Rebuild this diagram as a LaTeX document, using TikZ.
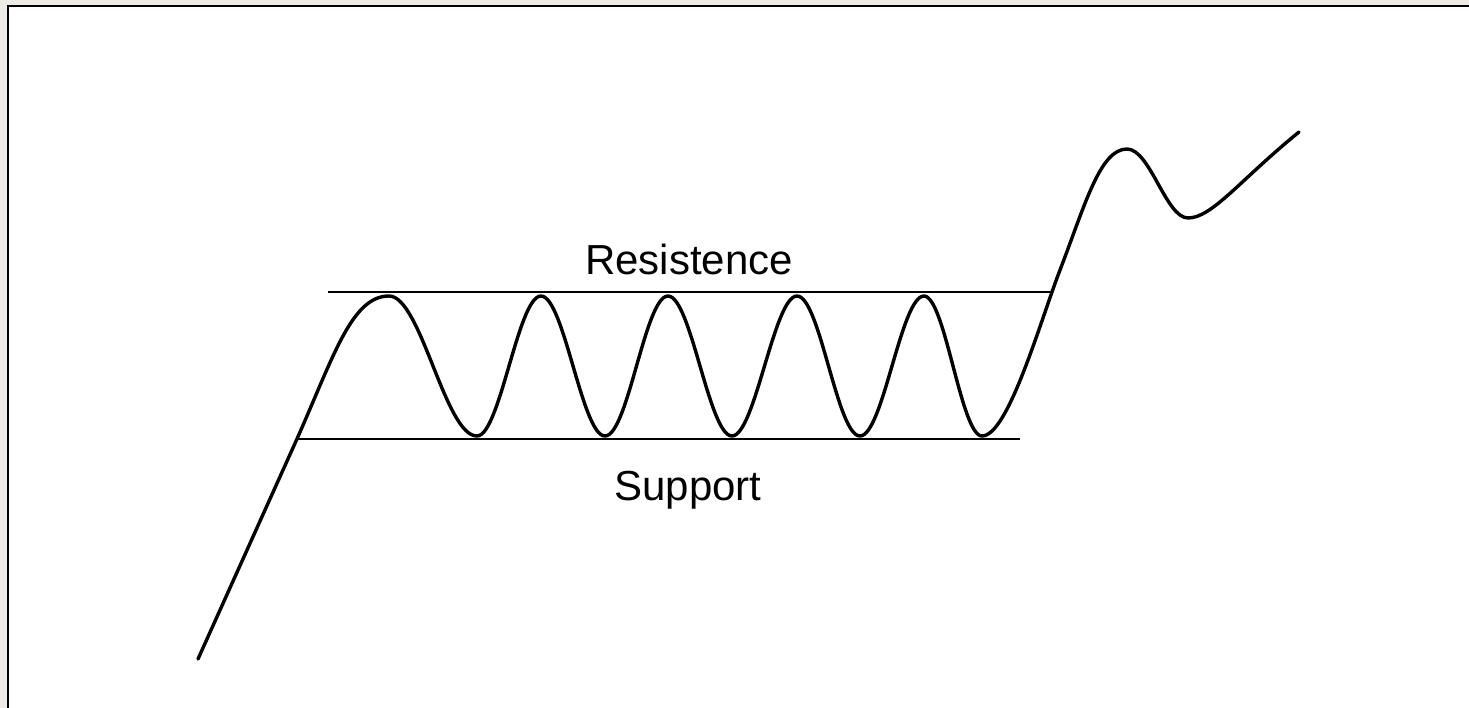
\documentclass[tikz,border=0pt]{standalone}
\usepackage{fontspec}
\setmainfont{Liberation Sans}
\definecolor{bggray}{RGB}{236,235,230}
\begin{document}
\begin{tikzpicture}[x=1pt,y=-1pt,
  price/.style={line width=3.4pt,line cap=round,line join=round},
  level/.style={line width=2pt},
  frameline/.style={line width=2.2pt},
  lbl/.style={font=\fontsize{42}{50}\selectfont,inner sep=0pt,anchor=base}]
\useasboundingbox (0,0) rectangle (1469,708);
\fill[bggray] (-5,-5) rectangle (1475,6);
\fill[bggray] (-5,-5) rectangle (8,715);
\fill[white] (8,6) rectangle (1475,715);
\coordinate (fbl) at (8,715);
\coordinate (ftl) at (8,6);
\coordinate (ftr) at (1475,6);
\draw[frameline] (fbl) -- (ftl) -- (ftr);
% levels
\coordinate (rL) at (328,292);
\coordinate (rR) at (1052,292);
\coordinate (sL) at (298,438.5);
\coordinate (sR) at (1020,438.5);
\draw[level] (rL) -- (rR);
\draw[level] (sL) -- (sR);
% price path
\coordinate (p0) at (198,659);
\coordinate (p1) at (292,450);
\coordinate (k1) at (389,296);
\coordinate (t1) at (477,436);
\coordinate (k2) at (541,296);
\coordinate (t2) at (605,436);
\coordinate (k3) at (668,296);
\coordinate (t3) at (732,436);
\coordinate (k4) at (797,296);
\coordinate (t4) at (860,436);
\coordinate (k5) at (924,296);
\coordinate (t5) at (982,436);
\coordinate (q1) at (1060,270);
\coordinate (k6) at (1127,149);
\coordinate (t6) at (1188,218);
\coordinate (pe) at (1299,132);
\draw[price] (p0) -- (p1)
  .. controls (332,362) and (350,296) .. (k1)
  .. controls (421,296) and (445,436) .. (t1)
  .. controls (500,436) and (518,296) .. (k2)
  .. controls (564,296) and (582,436) .. (t2)
  .. controls (628,436) and (645,296) .. (k3)
  .. controls (691,296) and (709,436) .. (t3)
  .. controls (755,436) and (774,296) .. (k4)
  .. controls (820,296) and (837,436) .. (t4)
  .. controls (883,436) and (901,296) .. (k5)
  .. controls (945,296) and (961,436) .. (t5)
  .. controls (1008,436) and (1040,322) .. (q1)
  .. controls (1085,205) and (1100,149) .. (k6)
  .. controls (1150,149) and (1166,218) .. (t6)
  .. controls (1212,218) and (1240,180) .. (pe);
\node[lbl] (res) at (689,275) {Resistence};
\node[lbl] (sup) at (688,500) {Support};
\end{tikzpicture}
\end{document}
